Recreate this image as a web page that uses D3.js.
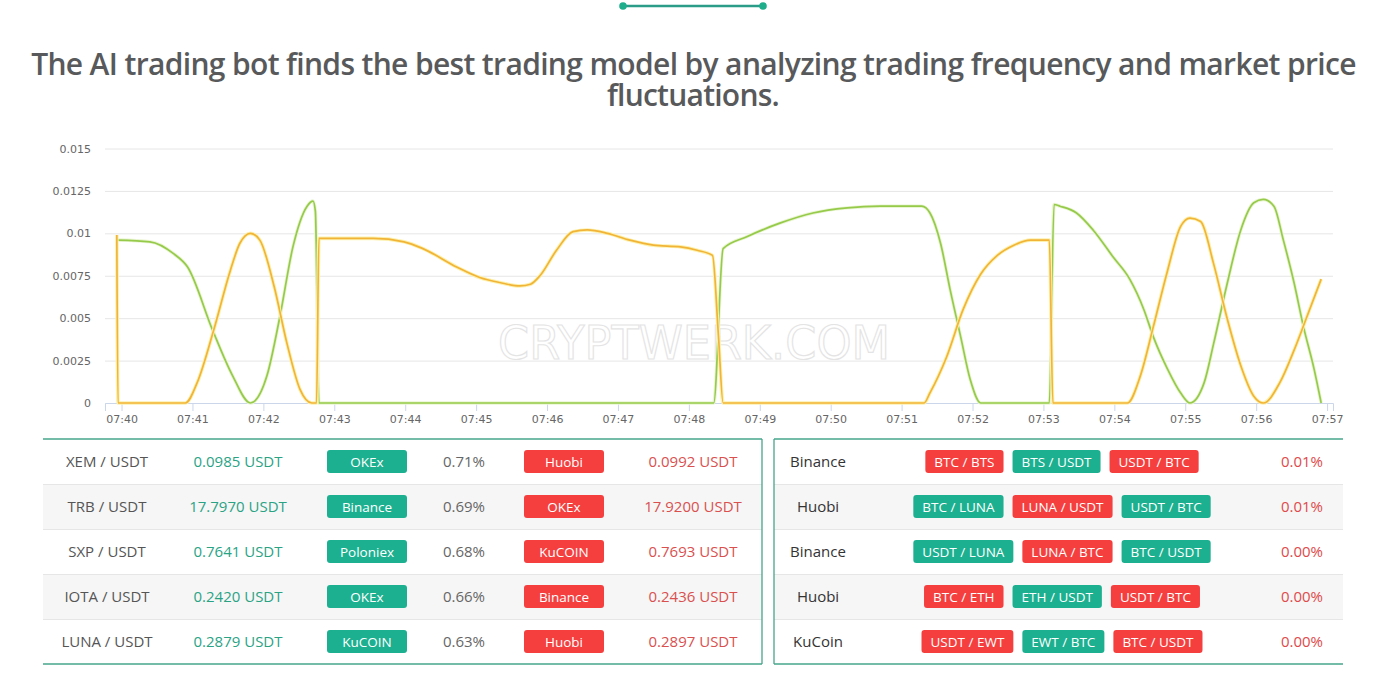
<!DOCTYPE html>
<html>
<head>
<meta charset="utf-8">
<script src="https://cdn.jsdelivr.net/npm/d3@7"></script>
<style>
  html, body { margin: 0; padding: 0; background: #fff; }
  svg { display: block; }
</style>
</head>
<body>
<div id="chart_div"></div>
<script>
// ---- chart data ----
const greenTimes = ["07:39:57","07:40:24","07:40:44","07:40:56","07:41:17","07:41:34","07:41:49","07:42:03","07:42:14","07:42:25","07:42:37","07:42:42","07:42:44","07:42:47",
  "07:48:21","07:48:29","07:48:49","07:49:17","07:49:45","07:50:14","07:50:42","07:51:17","07:51:24","07:51:33","07:51:41","07:51:50","07:51:58","07:52:07",
  "07:53:05","07:53:09","07:53:14","07:53:28","07:53:42","07:53:59","07:54:13","07:54:25","07:54:33","07:54:45","07:54:56","07:55:04","07:55:16","07:55:24",
  "07:55:35","07:55:47","07:55:58","07:56:06","07:56:15","07:56:23","07:56:32","07:56:40","07:56:49","07:56:55"];
const greenValues = [0.0096,0.0095,0.0088,0.0080,0.0043,0.0016,0,0.0016,0.0051,0.0092,0.0116,0.0119,0.0113,0,
  0,0.0091,0.0098,0.0106,0.0112,0.0115,0.0116,0.0116,0.0112,0.0094,0.0067,0.0039,0.0014,0,
  0,0.0117,0.0116,0.0112,0.0102,0.0086,0.0073,0.0055,0.0039,0.0020,0.0006,0,0.0012,0.0035,
  0.0069,0.0102,0.0118,0.0120,0.0116,0.0096,0.0071,0.0045,0.0020,0];

const yellowTimes = ["07:39:56","07:39:57","07:40:54","07:41:04","07:41:18","07:41:32","07:41:40","07:41:49","07:41:57","07:42:09","07:42:20","07:42:31","07:42:41","07:42:45",
  "07:42:47","07:43:05","07:43:33","07:43:59","07:44:15","07:44:44","07:45:03","07:45:20","07:45:37","07:45:46","07:45:54","07:46:08","07:46:22","07:46:34",
  "07:46:51","07:47:10","07:47:30","07:47:53","07:48:07","07:48:20","07:48:25","07:48:29","07:51:19","07:51:24","07:51:38","07:51:52","07:52:07","07:52:21",
  "07:52:35","07:52:49","07:53:05","07:53:08","07:54:11","07:54:22","07:54:33","07:54:45","07:54:56","07:55:04","07:55:13","07:55:24","07:55:35","07:55:47",
  "07:55:58","07:56:06","07:56:20","07:56:32","07:56:43","07:56:55"];
const yellowValues = [0.0099,0,0,0.0012,0.0043,0.0078,0.0094,0.0100,0.0096,0.0069,0.0035,0.0008,0,0,
  0.0097,0.0097,0.0097,0.0095,0.0091,0.0080,0.0074,0.0071,0.0069,0.0070,0.0075,0.0090,0.0101,0.0102,
  0.0100,0.0096,0.0093,0.0092,0.0090,0.0087,0.0040,0,0,0.0006,0.0027,0.0055,0.0076,0.0087,
  0.0093,0.0096,0.0096,0,0,0.0016,0.0045,0.0078,0.0104,0.0109,0.0107,0.0082,0.0051,0.0022,
  0.0004,0,0.0012,0.0031,0.0051,0.0073];

const xTickLabels = ["07:40","07:41","07:42","07:43","07:44","07:45","07:46","07:47","07:48","07:49","07:50","07:51","07:52","07:53","07:54","07:55","07:56","07:57"];
const yTickLabels = ["0","0.0025","0.005","0.0075","0.01","0.0125","0.015"];

// ---- table data ----
const pairs = ["XEM / USDT","TRB / USDT","SXP / USDT","IOTA / USDT","LUNA / USDT"];
const buyPrices = ["0.0985 USDT","17.7970 USDT","0.7641 USDT","0.2420 USDT","0.2879 USDT"];
const buyExchanges = ["OKEx","Binance","Poloniex","OKEx","KuCOIN"];
const spreads = ["0.71%","0.69%","0.68%","0.66%","0.63%"];
const sellExchanges = ["Huobi","OKEx","KuCOIN","Binance","Huobi"];
const sellPrices = ["0.0992 USDT","17.9200 USDT","0.7693 USDT","0.2436 USDT","0.2897 USDT"];

const triExchanges = ["Binance","Huobi","Binance","Huobi","KuCoin"];
const triLegs = [
  ["BTC / BTS","BTS / USDT","USDT / BTC"],
  ["BTC / LUNA","LUNA / USDT","USDT / BTC"],
  ["USDT / LUNA","LUNA / BTC","BTC / USDT"],
  ["BTC / ETH","ETH / USDT","USDT / BTC"],
  ["USDT / EWT","EWT / BTC","BTC / USDT"]
];
const triLegSides = [
  ["sell","buy","sell"],
  ["buy","sell","buy"],
  ["buy","sell","buy"],
  ["sell","buy","sell"],
  ["sell","buy","sell"]
];
const triProfits = ["0.01%","0.01%","0.00%","0.00%","0.00%"];

const TEAL = "#1cb090";
const RED = "#f53f3f";
const FONT = "'Open Sans', 'Noto Sans', sans-serif";

const W = 1391, H = 684;
const svg = d3.select("#chart_div").append("svg")
  .attr("width", W)
  .attr("height", H);

// top ornament
svg.append("line")
  .attr("x1", 623).attr("x2", 763).attr("y1", 6).attr("y2", 6)
  .attr("stroke", "#2a9c88").attr("stroke-width", 2.5);
svg.selectAll("circle.orn").data([623, 763]).enter()
  .append("circle").attr("class", "orn")
  .attr("cx", d => d).attr("cy", 6).attr("r", 3.8)
  .attr("fill", "#1fae8c");

// title - squeeze letter spacing so the first line fits its width
const title = svg.append("g")
  .attr("font-family", FONT)
  .attr("font-weight", 600)
  .attr("font-size", 30)
  .attr("fill", "#58595b")
  .attr("text-anchor", "middle");
function fitText(sel, target) {
  const n = sel.text().length;
  const natural = sel.node().getComputedTextLength();
  sel.attr("letter-spacing", ((target - natural) / n).toFixed(2));
}
const t1 = title.append("text")
  .attr("x", 693.5).attr("y", 75)
  .text("The AI trading bot finds the best trading model by analyzing trading frequency and market price");
fitText(t1, 1325);
const t2 = title.append("text")
  .attr("x", 693).attr("y", 106)
  .text("fluctuations.");
fitText(t2, 172);

// ---- line chart ----
const parseT = d3.timeParse("%H:%M:%S");
const parseM = d3.timeParse("%H:%M");

const x = d3.scaleTime()
  .domain([parseT("07:39:46"), parseT("07:57:05")])
  .range([105, 1333]);
const y = d3.scaleLinear()
  .domain([0, 0.015])
  .range([403, 148.5]);

// grid + y labels
const yAxis = svg.append("g")
  .attr("transform", "translate(105,0)")
  .call(d3.axisLeft(y)
    .tickValues(yTickLabels.map(Number))
    .tickFormat((d, i) => yTickLabels[i])
    .tickSize(-(1333 - 105))
    .tickPadding(14));
yAxis.select(".domain").remove();
yAxis.selectAll(".tick line").attr("stroke", "#e6e6e6");
yAxis.selectAll(".tick text")
  .attr("fill", "#666").attr("font-size", 11)
  .attr("font-family", "'DejaVu Sans', sans-serif");

// x axis
const xAxis = svg.append("g")
  .attr("transform", "translate(0,403)")
  .call(d3.axisBottom(x)
    .tickValues(xTickLabels.map(parseM))
    .tickFormat((d, i) => xTickLabels[i])
    .tickSizeOuter(0)
    .tickSize(8)
    .tickPadding(4));
xAxis.select(".domain").attr("stroke", "#ccd6eb");
xAxis.selectAll(".tick line").attr("stroke", "#ccd6eb");
xAxis.selectAll(".tick text")
  .attr("fill", "#666").attr("font-size", 11)
  .attr("font-family", "'DejaVu Sans', sans-serif");

// watermark
svg.append("text")
  .attr("x", 694).attr("y", 359)
  .attr("text-anchor", "middle")
  .attr("font-family", "'DejaVu Sans', sans-serif")
  .attr("font-size", 47)
  .attr("textLength", 392).attr("lengthAdjust", "spacingAndGlyphs")
  .attr("fill", "none")
  .attr("stroke", "#e4e4e4")
  .attr("stroke-width", 1.2)
  .text("CRYPTWERK.COM");

const line = d3.line()
  .x(d => x(d[0]))
  .y(d => y(d[1]))
  .curve(d3.curveMonotoneX);

const greenData = greenTimes.map((t, i) => [parseT(t), greenValues[i]]);
const yellowData = yellowTimes.map((t, i) => [parseT(t), yellowValues[i]]);

svg.append("path").datum(greenData)
  .attr("d", line).attr("fill", "none")
  .attr("stroke", "#eaf5d2").attr("stroke-width", 3.5);
svg.append("path").datum(greenData)
  .attr("d", line).attr("fill", "none")
  .attr("stroke", "#95ca4a").attr("stroke-width", 1.7);

svg.append("path").datum(yellowData)
  .attr("d", line).attr("fill", "none")
  .attr("stroke", "#fcf1ae").attr("stroke-width", 3.6);
svg.append("path").datum(yellowData)
  .attr("d", line).attr("fill", "none")
  .attr("stroke", "#f1b437").attr("stroke-width", 1.7);

// ---- tables ----
const rowTop = 439, rowH = 45;
const rowsIdx = d3.range(5);
const BORDER = "#46a58b";

function drawTableFrame(x0, x1, side) {
  const g = svg.append("g");
  g.selectAll("rect.bg").data(rowsIdx.filter(i => i % 2 === 1)).enter()
    .append("rect")
    .attr("x", x0).attr("width", x1 - x0)
    .attr("y", i => rowTop + i * rowH).attr("height", rowH)
    .attr("fill", "#f6f6f6");
  g.selectAll("line.sep").data(d3.range(1, 5)).enter()
    .append("line")
    .attr("x1", x0).attr("x2", x1)
    .attr("y1", i => rowTop + i * rowH + 0.5).attr("y2", i => rowTop + i * rowH + 0.5)
    .attr("stroke", "#e6e6e6");
  g.selectAll("line.hb").data([rowTop, rowTop + 5 * rowH]).enter()
    .append("line")
    .attr("x1", x0).attr("x2", x1)
    .attr("y1", d => d).attr("y2", d => d)
    .attr("stroke", BORDER).attr("stroke-width", 1.3);
  const vx = side === "right" ? x1 : x0;
  g.append("line")
    .attr("x1", vx).attr("x2", vx)
    .attr("y1", rowTop).attr("y2", rowTop + 5 * rowH)
    .attr("stroke", BORDER).attr("stroke-width", 1.3);
  return g;
}

function cellText(g, cx, texts, color) {
  g.selectAll(null).data(texts).enter()
    .append("text")
    .attr("x", cx)
    .attr("y", (d, i) => rowTop + i * rowH + rowH / 2 + 5.5)
    .attr("text-anchor", "middle")
    .attr("font-family", FONT)
    .attr("font-size", 15)
    .attr("fill", color)
    .text(d => d);
}

function badge(g, cx, cy, w, label, color) {
  g.append("rect")
    .attr("x", cx - w / 2).attr("y", cy - 11.5)
    .attr("width", w).attr("height", 23)
    .attr("rx", 3).attr("fill", color);
  g.append("text")
    .attr("x", cx).attr("y", cy + 5)
    .attr("text-anchor", "middle")
    .attr("font-family", FONT)
    .attr("font-size", 13.5)
    .attr("fill", "#fff")
    .text(label);
}

// left table
const left = drawTableFrame(43, 762, "right");
cellText(left, 107, pairs, "#555");
cellText(left, 238, buyPrices, "#2aa385");
cellText(left, 464, spreads, "#666");
cellText(left, 693, sellPrices, "#d9504f");
rowsIdx.forEach(i => {
  const cy = rowTop + i * rowH + rowH / 2;
  badge(left, 367, cy, 80, buyExchanges[i], TEAL);
  badge(left, 564, cy, 80, sellExchanges[i], RED);
});

// right table
const right = drawTableFrame(774, 1343, "left");
cellText(right, 818, triExchanges, "#333");
cellText(right, 1302, triProfits, "#e04a4a");

const measure = svg.append("text")
  .attr("font-family", FONT).attr("font-size", 13.5)
  .attr("visibility", "hidden");
function textW(s) { measure.text(s); return measure.node().getComputedTextLength(); }

rowsIdx.forEach(i => {
  const cy = rowTop + i * rowH + rowH / 2;
  const widths = triLegs[i].map(s => textW(s) + 18);
  const gap = 9;
  const total = d3.sum(widths) + gap * (widths.length - 1);
  let cursor = 1062 - total / 2;
  triLegs[i].forEach((s, j) => {
    badge(right, cursor + widths[j] / 2, cy, widths[j], s, triLegSides[i][j] === "buy" ? TEAL : RED);
    cursor += widths[j] + gap;
  });
});
measure.remove();
</script>
</body>
</html>
